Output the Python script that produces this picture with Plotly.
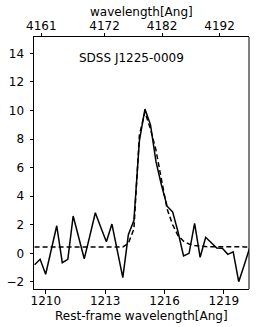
import plotly.graph_objects as go

# Rest-frame wavelength grid [Ang]
wave_rest = [1209.43, 1209.71, 1209.99, 1210.27, 1210.55, 1210.83, 1211.11, 1211.38,
             1211.66, 1211.94, 1212.22, 1212.50, 1212.78, 1213.06, 1213.34, 1213.61,
             1213.89, 1214.17, 1214.45, 1214.73, 1215.01, 1215.29, 1215.57, 1215.84,
             1216.13, 1216.41, 1216.68, 1216.96, 1217.24, 1217.52, 1217.80, 1218.08,
             1218.36, 1218.64, 1218.92, 1219.20, 1219.47, 1219.75, 1220.03, 1220.31]
# Observed flux (solid)
flux = [-0.8, -0.42, -1.47, 0.25, 1.93, -0.66, -0.42, 2.61,
        1.1, -0.38, 1.2, 2.84, 1.8, 0.81, 2.05, 0.2,
        -1.7, 1.3, 2.3, 7.9, 10.1, 9.0, 6.4, 4.8,
        3.3, 2.9, 1.51, -0.19, 0.0, 2.1, -0.28, 1.12,
        0.75, 0.37, 0.35, -0.07, 0.11, -1.99, -0.82, 0.4]
# Model fit (dashed)
model = [0.45, 0.45, 0.45, 0.45, 0.45, 0.45, 0.45, 0.45,
         0.45, 0.45, 0.45, 0.45, 0.45, 0.45, 0.45, 0.45,
         0.45, 0.7, 1.7, 8.3, 9.9, 8.7, 7.2, 5.2,
         3.1, 2.0, 1.25, 0.85, 0.65, 0.55, 0.5, 0.47,
         0.46, 0.45, 0.45, 0.45, 0.45, 0.45, 0.45, 0.45]

one_plus_z = 3.4395
x_range = [1209.40, 1220.27]
y_range = [-2.5, 15.15]
bottom_ticks = [1210, 1213, 1216, 1219]
top_ticks = [4161, 4172, 4182, 4192]
y_ticks = [-2, 0, 2, 4, 6, 8, 10, 12, 14]
label = "SDSS J1225-0009"
bottom_title = "Rest-frame wavelength[Ang]"
top_title = "wavelength[Ang]"

font = dict(family="DejaVu Sans", size=12, color="black")

fig = go.Figure()
fig.add_trace(go.Scatter(x=wave_rest, y=flux, mode="lines",
                         line=dict(color="black", width=1.5), showlegend=False))
fig.add_trace(go.Scatter(x=wave_rest, y=model, mode="lines",
                         line=dict(color="black", width=1.5, dash="5px,3px"),
                         showlegend=False))
fig.add_trace(go.Scatter(x=[w * one_plus_z for w in wave_rest], y=flux, xaxis="x2",
                         mode="lines", line=dict(color="rgba(0,0,0,0)", width=0),
                         hoverinfo="skip", showlegend=False))

axis_common = dict(showgrid=False, zeroline=False, showline=True, linecolor="black",
                   linewidth=1, ticks="outside", ticklen=3.5, tickwidth=1,
                   tickcolor="black", tickfont=font, automargin=False)

fig.update_layout(
    width=262, height=327,
    margin=dict(l=34, r=13, t=37, b=38),
    paper_bgcolor="white", plot_bgcolor="white",
    font=font,
    xaxis=dict(range=x_range, tickvals=bottom_ticks, mirror=False,
               ticklabelstandoff=-3, **axis_common),
    xaxis2=dict(range=[x_range[0] * one_plus_z, x_range[1] * one_plus_z],
                tickvals=top_ticks, overlaying="x", side="top", anchor="y",
                ticklabelstandoff=-2, **axis_common),
    yaxis=dict(range=y_range, tickvals=y_ticks, mirror=False, ticklabelstandoff=3,
               **axis_common),
    annotations=[
        dict(text=label, x=0.2, y=13.7, xref="paper", yref="y",
             xanchor="left", yanchor="middle", showarrow=False,
             font=dict(family="DejaVu Sans", size=12, color="black")),
        dict(text=bottom_title, x=0.5, y=-0.106, xref="paper", yref="paper",
             xanchor="center", yanchor="middle", showarrow=False, font=font),
        dict(text=top_title, x=0.5, y=1.1, xref="paper", yref="paper",
             xanchor="center", yanchor="middle", showarrow=False, font=font),
    ],
)
# right spine without ticks
fig.add_shape(type="line", xref="paper", yref="paper", x0=1, x1=1, y0=0, y1=1,
              line=dict(color="black", width=1))

fig.write_html("out.html", config={"displayModeBar": False},
               post_script="document.body.style.margin='0';document.body.style.padding='0';")
